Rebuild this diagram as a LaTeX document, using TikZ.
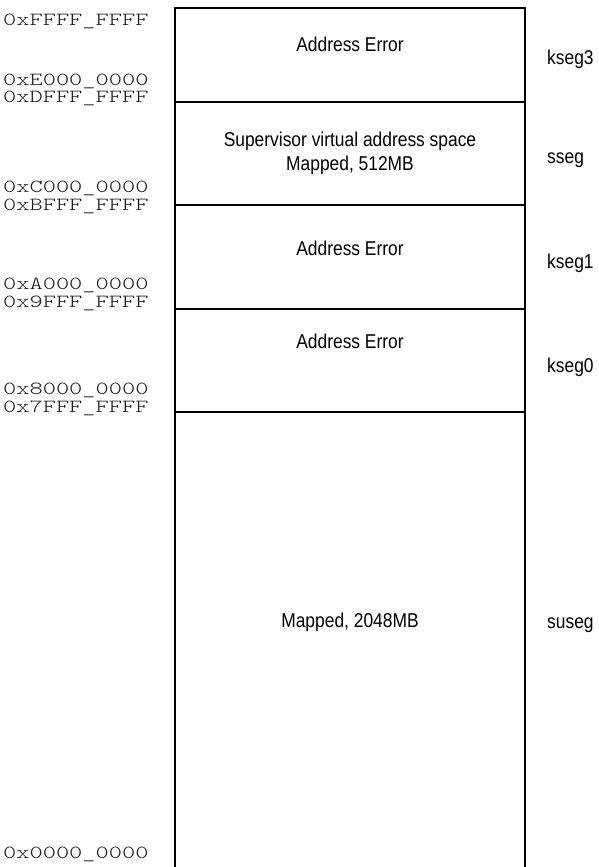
\documentclass[tikz,border=0pt]{standalone}
\usepackage{fontspec}
\newfontfamily\labfont{Liberation Sans}[FakeStretch=0.87]
\newfontfamily\hexfont{lmmonolt10-regular.otf}[FakeStretch=1.36]
\begin{document}
\begin{tikzpicture}[x=1pt,y=-1pt,
  seg/.style={line width=1.2pt},
  hex/.style={anchor=base west,inner sep=0pt,text=black!90,font=\hexfont\fontsize{18.5}{18.5}\selectfont},
  mid/.style={anchor=base,inner sep=0pt,font=\labfont\fontsize{20}{24}\selectfont,align=center},
  side/.style={anchor=base west,inner sep=0pt,font=\labfont\fontsize{20}{22}\selectfont}]
\useasboundingbox (0,0) rectangle (598,867);
% box
\coordinate (bl) at (175,867);
\coordinate (tl) at (175,8);
\coordinate (tr) at (525,8);
\coordinate (br) at (525,867);
\draw[seg] (bl) -- (tl) -- (tr) -- (br);
\foreach \d/\n in {102/a,205/b,309/c,412/d}{
  \coordinate (l\n) at (175,\d);
  \coordinate (r\n) at (525,\d);
  \draw[seg] (l\n) -- (r\n);
}
% hex addresses
\node[hex] (h1) at (3,26) {0xFFFF\_FFFF};
\node[hex] (h2) at (3,85) {0xE000\_0000};
\node[hex] (h3) at (3,102) {0xDFFF\_FFFF};
\node[hex] (h4) at (3,192) {0xC000\_0000};
\node[hex] (h5) at (3,210) {0xBFFF\_FFFF};
\node[hex] (h6) at (3,289) {0xA000\_0000};
\node[hex] (h7) at (3,307) {0x9FFF\_FFFF};
\node[hex] (h8) at (3,394) {0x8000\_0000};
\node[hex] (h9) at (3,412) {0x7FFF\_FFFF};
\node[hex] (h10) at (3,858) {0x0000\_0000};
% segment contents
\node[mid] (t1) at (350,52) {Address Error};
\node[mid] (t2) at (350,170) {Supervisor virtual address space\\Mapped, 512MB};
\node[mid] (t3) at (350,255) {Address Error};
\node[mid] (t4) at (350,348) {Address Error};
\node[mid] (t5) at (350,627) {Mapped, 2048MB};
% segment names
\node[side] (s1) at (547,65) {kseg3};
\node[side] (s2) at (547,163) {sseg};
\node[side] (s3) at (547,268) {kseg1};
\node[side] (s4) at (547,372) {kseg0};
\node[side] (s5) at (547,628) {suseg};
\end{tikzpicture}
\end{document}
